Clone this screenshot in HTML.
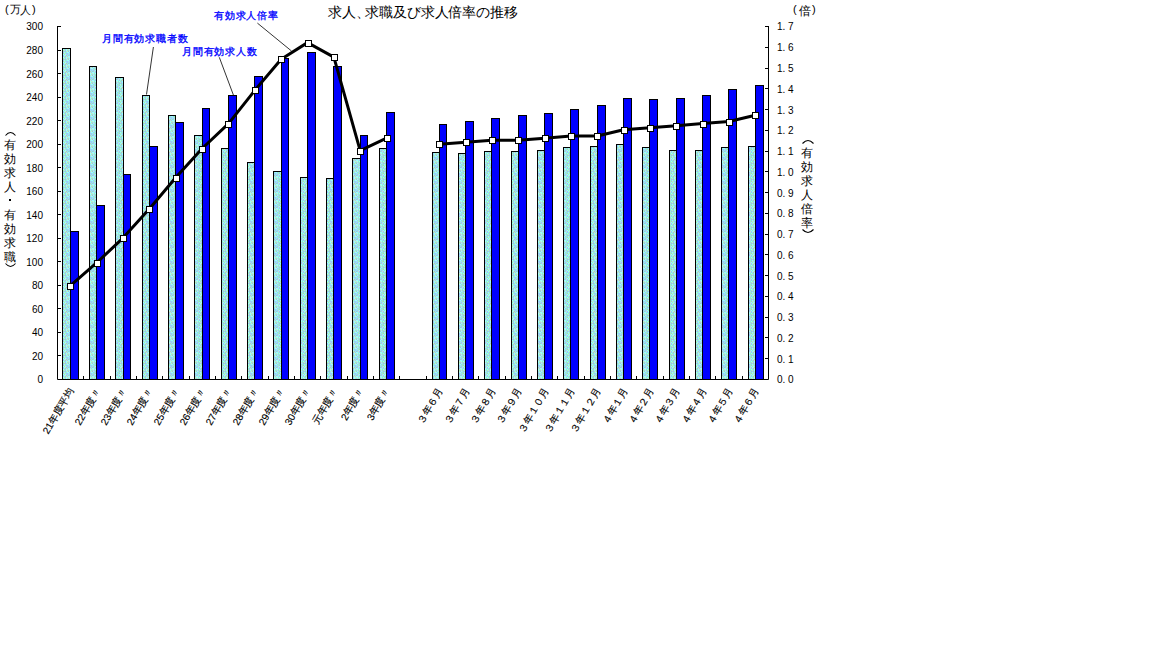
<!DOCTYPE html>
<html lang="ja"><head><meta charset="utf-8">
<style>
html,body{margin:0;padding:0;background:#fff;width:1152px;height:648px;overflow:hidden}
body{position:relative;font-family:"Liberation Sans",sans-serif;color:#000}
svg{position:absolute;left:0;top:0}
.t{position:absolute;white-space:nowrap;line-height:1}
.yl{position:absolute;left:0;width:43px;text-align:right;font-size:10px;line-height:10px}
.yr{position:absolute;left:777px;font-size:10px;line-height:10px;white-space:pre}
.v{position:absolute;font-size:12px;line-height:12px}
.xo{position:absolute;width:0;height:0}
.xi{position:absolute;right:0;top:-6px;line-height:12px;font-size:10px;white-space:nowrap;transform-origin:100% 50%;transform:rotate(-60deg);-webkit-text-stroke:0.15px #000}
</style></head><body>
<svg width="1152" height="648" viewBox="0 0 1152 648">
<defs><pattern id="pat" width="8" height="8" patternUnits="userSpaceOnUse"><rect x="0" y="0" width="1" height="1" fill="#9ce8e8"/><rect x="1" y="0" width="1" height="1" fill="#a0d0c8"/><rect x="2" y="0" width="1" height="1" fill="#c8e8c8"/><rect x="3" y="0" width="1" height="1" fill="#99ccf8"/><rect x="4" y="0" width="1" height="1" fill="#99ffff"/><rect x="5" y="0" width="1" height="1" fill="#99ffff"/><rect x="6" y="0" width="1" height="1" fill="#9ce8e8"/><rect x="7" y="0" width="1" height="1" fill="#99ccf8"/><rect x="0" y="1" width="1" height="1" fill="#99f8bb"/><rect x="1" y="1" width="1" height="1" fill="#99ccf8"/><rect x="2" y="1" width="1" height="1" fill="#99ffff"/><rect x="3" y="1" width="1" height="1" fill="#c8e8c8"/><rect x="4" y="1" width="1" height="1" fill="#c8e8c8"/><rect x="5" y="1" width="1" height="1" fill="#99ffff"/><rect x="6" y="1" width="1" height="1" fill="#99f8bb"/><rect x="7" y="1" width="1" height="1" fill="#99ffff"/><rect x="0" y="2" width="1" height="1" fill="#c8e8c8"/><rect x="1" y="2" width="1" height="1" fill="#99ccf8"/><rect x="2" y="2" width="1" height="1" fill="#99ffff"/><rect x="3" y="2" width="1" height="1" fill="#99f8bb"/><rect x="4" y="2" width="1" height="1" fill="#99ccf8"/><rect x="5" y="2" width="1" height="1" fill="#c8e8c8"/><rect x="6" y="2" width="1" height="1" fill="#99ccf8"/><rect x="7" y="2" width="1" height="1" fill="#99f8bb"/><rect x="0" y="3" width="1" height="1" fill="#99ccf8"/><rect x="1" y="3" width="1" height="1" fill="#a0d0c8"/><rect x="2" y="3" width="1" height="1" fill="#a8d8f0"/><rect x="3" y="3" width="1" height="1" fill="#c8e8c8"/><rect x="4" y="3" width="1" height="1" fill="#a0d0c8"/><rect x="5" y="3" width="1" height="1" fill="#99ffff"/><rect x="6" y="3" width="1" height="1" fill="#a8d8f0"/><rect x="7" y="3" width="1" height="1" fill="#a0d0c8"/><rect x="0" y="4" width="1" height="1" fill="#99ffff"/><rect x="1" y="4" width="1" height="1" fill="#99f8bb"/><rect x="2" y="4" width="1" height="1" fill="#9ce8e8"/><rect x="3" y="4" width="1" height="1" fill="#99ffff"/><rect x="4" y="4" width="1" height="1" fill="#99ffff"/><rect x="5" y="4" width="1" height="1" fill="#99ccf8"/><rect x="6" y="4" width="1" height="1" fill="#99f8bb"/><rect x="7" y="4" width="1" height="1" fill="#99ccf8"/><rect x="0" y="5" width="1" height="1" fill="#c8e8c8"/><rect x="1" y="5" width="1" height="1" fill="#9ce8e8"/><rect x="2" y="5" width="1" height="1" fill="#99ccf8"/><rect x="3" y="5" width="1" height="1" fill="#99ccf8"/><rect x="4" y="5" width="1" height="1" fill="#9ce8e8"/><rect x="5" y="5" width="1" height="1" fill="#a8d8f0"/><rect x="6" y="5" width="1" height="1" fill="#99f8bb"/><rect x="7" y="5" width="1" height="1" fill="#a0d0c8"/><rect x="0" y="6" width="1" height="1" fill="#99f8bb"/><rect x="1" y="6" width="1" height="1" fill="#99ffff"/><rect x="2" y="6" width="1" height="1" fill="#a8d8f0"/><rect x="3" y="6" width="1" height="1" fill="#99ccf8"/><rect x="4" y="6" width="1" height="1" fill="#9ce8e8"/><rect x="5" y="6" width="1" height="1" fill="#99ccf8"/><rect x="6" y="6" width="1" height="1" fill="#a8d8f0"/><rect x="7" y="6" width="1" height="1" fill="#99ffff"/><rect x="0" y="7" width="1" height="1" fill="#99ffff"/><rect x="1" y="7" width="1" height="1" fill="#c8e8c8"/><rect x="2" y="7" width="1" height="1" fill="#a0d0c8"/><rect x="3" y="7" width="1" height="1" fill="#9ce8e8"/><rect x="4" y="7" width="1" height="1" fill="#a0d0c8"/><rect x="5" y="7" width="1" height="1" fill="#99ccf8"/><rect x="6" y="7" width="1" height="1" fill="#c8e8c8"/><rect x="7" y="7" width="1" height="1" fill="#99ccf8"/></pattern></defs>
<rect x="62.5" y="48.5" width="8" height="331" fill="url(#pat)" stroke="#000" stroke-width="1"/>
<rect x="70.5" y="231.5" width="8" height="148" fill="#0000ff" stroke="#000" stroke-width="1"/>
<rect x="89.5" y="66.5" width="7" height="313" fill="url(#pat)" stroke="#000" stroke-width="1"/>
<rect x="96.5" y="205.5" width="8" height="174" fill="#0000ff" stroke="#000" stroke-width="1"/>
<rect x="115.5" y="77.5" width="8" height="302" fill="url(#pat)" stroke="#000" stroke-width="1"/>
<rect x="123.5" y="174.5" width="7" height="205" fill="#0000ff" stroke="#000" stroke-width="1"/>
<rect x="142.5" y="95.5" width="7" height="284" fill="url(#pat)" stroke="#000" stroke-width="1"/>
<rect x="149.5" y="146.5" width="8" height="233" fill="#0000ff" stroke="#000" stroke-width="1"/>
<rect x="168.5" y="115.5" width="7" height="264" fill="url(#pat)" stroke="#000" stroke-width="1"/>
<rect x="175.5" y="122.5" width="8" height="257" fill="#0000ff" stroke="#000" stroke-width="1"/>
<rect x="194.5" y="135.5" width="8" height="244" fill="url(#pat)" stroke="#000" stroke-width="1"/>
<rect x="202.5" y="108.5" width="7" height="271" fill="#0000ff" stroke="#000" stroke-width="1"/>
<rect x="221.5" y="148.5" width="7" height="231" fill="url(#pat)" stroke="#000" stroke-width="1"/>
<rect x="228.5" y="95.5" width="8" height="284" fill="#0000ff" stroke="#000" stroke-width="1"/>
<rect x="247.5" y="162.5" width="7" height="217" fill="url(#pat)" stroke="#000" stroke-width="1"/>
<rect x="254.5" y="76.5" width="8" height="303" fill="#0000ff" stroke="#000" stroke-width="1"/>
<rect x="273.5" y="171.5" width="8" height="208" fill="url(#pat)" stroke="#000" stroke-width="1"/>
<rect x="281.5" y="58.5" width="7" height="321" fill="#0000ff" stroke="#000" stroke-width="1"/>
<rect x="300.5" y="177.5" width="7" height="202" fill="url(#pat)" stroke="#000" stroke-width="1"/>
<rect x="307.5" y="52.5" width="8" height="327" fill="#0000ff" stroke="#000" stroke-width="1"/>
<rect x="326.5" y="178.5" width="7" height="201" fill="url(#pat)" stroke="#000" stroke-width="1"/>
<rect x="333.5" y="66.5" width="8" height="313" fill="#0000ff" stroke="#000" stroke-width="1"/>
<rect x="352.5" y="158.5" width="8" height="221" fill="url(#pat)" stroke="#000" stroke-width="1"/>
<rect x="360.5" y="135.5" width="7" height="244" fill="#0000ff" stroke="#000" stroke-width="1"/>
<rect x="379.5" y="148.5" width="7" height="231" fill="url(#pat)" stroke="#000" stroke-width="1"/>
<rect x="386.5" y="112.5" width="8" height="267" fill="#0000ff" stroke="#000" stroke-width="1"/>
<rect x="432.5" y="152.5" width="7" height="227" fill="url(#pat)" stroke="#000" stroke-width="1"/>
<rect x="439.5" y="124.5" width="7" height="255" fill="#0000ff" stroke="#000" stroke-width="1"/>
<rect x="458.5" y="153.5" width="7" height="226" fill="url(#pat)" stroke="#000" stroke-width="1"/>
<rect x="465.5" y="121.5" width="8" height="258" fill="#0000ff" stroke="#000" stroke-width="1"/>
<rect x="484.5" y="151.5" width="7" height="228" fill="url(#pat)" stroke="#000" stroke-width="1"/>
<rect x="491.5" y="118.5" width="8" height="261" fill="#0000ff" stroke="#000" stroke-width="1"/>
<rect x="511.5" y="151.5" width="7" height="228" fill="url(#pat)" stroke="#000" stroke-width="1"/>
<rect x="518.5" y="115.5" width="8" height="264" fill="#0000ff" stroke="#000" stroke-width="1"/>
<rect x="537.5" y="150.5" width="7" height="229" fill="url(#pat)" stroke="#000" stroke-width="1"/>
<rect x="544.5" y="113.5" width="8" height="266" fill="#0000ff" stroke="#000" stroke-width="1"/>
<rect x="563.5" y="147.5" width="7" height="232" fill="url(#pat)" stroke="#000" stroke-width="1"/>
<rect x="570.5" y="109.5" width="8" height="270" fill="#0000ff" stroke="#000" stroke-width="1"/>
<rect x="590.5" y="146.5" width="7" height="233" fill="url(#pat)" stroke="#000" stroke-width="1"/>
<rect x="597.5" y="105.5" width="8" height="274" fill="#0000ff" stroke="#000" stroke-width="1"/>
<rect x="616.5" y="144.5" width="7" height="235" fill="url(#pat)" stroke="#000" stroke-width="1"/>
<rect x="623.5" y="98.5" width="8" height="281" fill="#0000ff" stroke="#000" stroke-width="1"/>
<rect x="642.5" y="147.5" width="7" height="232" fill="url(#pat)" stroke="#000" stroke-width="1"/>
<rect x="649.5" y="99.5" width="8" height="280" fill="#0000ff" stroke="#000" stroke-width="1"/>
<rect x="669.5" y="150.5" width="7" height="229" fill="url(#pat)" stroke="#000" stroke-width="1"/>
<rect x="676.5" y="98.5" width="8" height="281" fill="#0000ff" stroke="#000" stroke-width="1"/>
<rect x="695.5" y="150.5" width="7" height="229" fill="url(#pat)" stroke="#000" stroke-width="1"/>
<rect x="702.5" y="95.5" width="8" height="284" fill="#0000ff" stroke="#000" stroke-width="1"/>
<rect x="721.5" y="147.5" width="7" height="232" fill="url(#pat)" stroke="#000" stroke-width="1"/>
<rect x="728.5" y="89.5" width="8" height="290" fill="#0000ff" stroke="#000" stroke-width="1"/>
<rect x="748.5" y="146.5" width="7" height="233" fill="url(#pat)" stroke="#000" stroke-width="1"/>
<rect x="755.5" y="85.5" width="8" height="294" fill="#0000ff" stroke="#000" stroke-width="1"/>
<path d="M57.5 26 V379.5 H768.5 V26" fill="none" stroke="#000" stroke-width="1"/>
<path d="M58 379.5H61 M58 355.5H61 M58 332.5H61 M58 308.5H61 M58 285.5H61 M58 261.5H61 M58 238.5H61 M58 214.5H61 M58 191.5H61 M58 167.5H61 M58 144.5H61 M58 120.5H61 M58 97.5H61 M58 73.5H61 M58 50.5H61 M58 26.5H61 M765 379.5H768 M765 358.5H768 M765 337.5H768 M765 317.5H768 M765 296.5H768 M765 275.5H768 M765 254.5H768 M765 234.5H768 M765 213.5H768 M765 192.5H768 M765 171.5H768 M765 151.5H768 M765 130.5H768 M765 109.5H768 M765 88.5H768 M765 68.5H768 M765 47.5H768 M765 26.5H768 M83.5 376V379 M110.5 376V379 M136.5 376V379 M162.5 376V379 M189.5 376V379 M215.5 376V379 M241.5 376V379 M268.5 376V379 M294.5 376V379 M320.5 376V379 M347.5 376V379 M373.5 376V379 M399.5 376V379 M426.5 376V379 M452.5 376V379 M478.5 376V379 M505.5 376V379 M531.5 376V379 M557.5 376V379 M584.5 376V379 M610.5 376V379 M636.5 376V379 M663.5 376V379 M689.5 376V379 M715.5 376V379 M742.5 376V379" stroke="#000" stroke-width="1" fill="none"/>
<path d="M257.4 23.1 L291.5 51 M153.4 47 L146.5 94.5 M219.3 57.3 L233.5 95.3" stroke="#000" stroke-width="0.8" fill="none"/>
<path d="M70.45 285.56 L96.79 262.72 L123.13 237.80 L149.47 208.73 L175.81 177.58 L202.15 148.51 L228.49 123.59 L254.83 90.37 L281.17 59.22 L307.51 42.61 L333.85 57.15 L360.19 150.59 L386.53 138.13" stroke="#000" stroke-width="3" fill="none" stroke-linejoin="round"/>
<path d="M439.21 144.36 L465.55 142.28 L491.89 140.21 L518.23 140.21 L544.57 138.13 L570.91 136.05 L597.25 136.05 L623.59 129.82 L649.93 127.75 L676.27 125.67 L702.61 123.59 L728.95 121.52 L755.29 115.29" stroke="#000" stroke-width="3" fill="none" stroke-linejoin="round"/>
<rect x="67.5" y="283.5" width="6" height="6" fill="#fff" stroke="#000" stroke-width="1"/>
<rect x="94.5" y="260.5" width="6" height="6" fill="#fff" stroke="#000" stroke-width="1"/>
<rect x="120.5" y="235.5" width="6" height="6" fill="#fff" stroke="#000" stroke-width="1"/>
<rect x="146.5" y="206.5" width="6" height="6" fill="#fff" stroke="#000" stroke-width="1"/>
<rect x="173.5" y="175.5" width="6" height="6" fill="#fff" stroke="#000" stroke-width="1"/>
<rect x="199.5" y="146.5" width="6" height="6" fill="#fff" stroke="#000" stroke-width="1"/>
<rect x="225.5" y="121.5" width="6" height="6" fill="#fff" stroke="#000" stroke-width="1"/>
<rect x="252.5" y="87.5" width="6" height="6" fill="#fff" stroke="#000" stroke-width="1"/>
<rect x="278.5" y="56.5" width="6" height="6" fill="#fff" stroke="#000" stroke-width="1"/>
<rect x="305.5" y="40.5" width="6" height="6" fill="#fff" stroke="#000" stroke-width="1"/>
<rect x="331.5" y="54.5" width="6" height="6" fill="#fff" stroke="#000" stroke-width="1"/>
<rect x="357.5" y="148.5" width="6" height="6" fill="#fff" stroke="#000" stroke-width="1"/>
<rect x="384.5" y="135.5" width="6" height="6" fill="#fff" stroke="#000" stroke-width="1"/>
<rect x="436.5" y="141.5" width="6" height="6" fill="#fff" stroke="#000" stroke-width="1"/>
<rect x="463.5" y="139.5" width="6" height="6" fill="#fff" stroke="#000" stroke-width="1"/>
<rect x="489.5" y="137.5" width="6" height="6" fill="#fff" stroke="#000" stroke-width="1"/>
<rect x="515.5" y="137.5" width="6" height="6" fill="#fff" stroke="#000" stroke-width="1"/>
<rect x="542.5" y="135.5" width="6" height="6" fill="#fff" stroke="#000" stroke-width="1"/>
<rect x="568.5" y="133.5" width="6" height="6" fill="#fff" stroke="#000" stroke-width="1"/>
<rect x="594.5" y="133.5" width="6" height="6" fill="#fff" stroke="#000" stroke-width="1"/>
<rect x="621.5" y="127.5" width="6" height="6" fill="#fff" stroke="#000" stroke-width="1"/>
<rect x="647.5" y="125.5" width="6" height="6" fill="#fff" stroke="#000" stroke-width="1"/>
<rect x="673.5" y="123.5" width="6" height="6" fill="#fff" stroke="#000" stroke-width="1"/>
<rect x="700.5" y="121.5" width="6" height="6" fill="#fff" stroke="#000" stroke-width="1"/>
<rect x="726.5" y="119.5" width="6" height="6" fill="#fff" stroke="#000" stroke-width="1"/>
<rect x="752.5" y="112.5" width="6" height="6" fill="#fff" stroke="#000" stroke-width="1"/>
<rect x="9" y="199" width="2" height="2" fill="#000"/>
<path d="M5.5 135.5 Q10.5 129.6 15.5 135.5 M5.5 263.5 Q10.5 269.4 15.5 263.5" stroke="#000" stroke-width="1.1" fill="none"/>
<path d="M802.5 143.5 Q808 137.6 813.5 143.5 M802.5 229.5 Q808 235.4 813.5 229.5" stroke="#000" stroke-width="1.1" fill="none"/>
</svg>
<div class="t" style="left:328px;top:5px;font-size:14px;letter-spacing:0px">求人、</div>
<div class="t" style="left:365px;top:5px;font-size:14px;letter-spacing:-0.1px">求職及び求人倍率の推移</div>
<div class="t" style="left:5px;top:4px;font-size:11px;">(</div>
<div class="t" style="left:10px;top:4px;font-size:11px;">万</div>
<div class="t" style="left:20px;top:5px;font-size:11px;">人</div>
<div class="t" style="left:32px;top:4px;font-size:11px;">)</div>
<div class="t" style="left:793px;top:4px;font-size:11px;">(</div>
<div class="t" style="left:799px;top:5px;font-size:12px;">倍</div>
<div class="t" style="left:812px;top:4px;font-size:11px;">)</div>
<div class="yl" style="top:375.4px">0</div>
<div class="yl" style="top:351.9px">20</div>
<div class="yl" style="top:328.3px">40</div>
<div class="yl" style="top:304.8px">60</div>
<div class="yl" style="top:281.3px">80</div>
<div class="yl" style="top:257.7px">100</div>
<div class="yl" style="top:234.2px">120</div>
<div class="yl" style="top:210.7px">140</div>
<div class="yl" style="top:187.1px">160</div>
<div class="yl" style="top:163.6px">180</div>
<div class="yl" style="top:140.1px">200</div>
<div class="yl" style="top:116.5px">220</div>
<div class="yl" style="top:93.0px">240</div>
<div class="yl" style="top:69.5px">260</div>
<div class="yl" style="top:45.9px">280</div>
<div class="yl" style="top:22.4px">300</div>
<div class="yr" style="top:375.4px">0. 0</div>
<div class="yr" style="top:354.6px">0. 1</div>
<div class="yr" style="top:333.9px">0. 2</div>
<div class="yr" style="top:313.1px">0. 3</div>
<div class="yr" style="top:292.3px">0. 4</div>
<div class="yr" style="top:271.6px">0. 5</div>
<div class="yr" style="top:250.8px">0. 6</div>
<div class="yr" style="top:230.0px">0. 7</div>
<div class="yr" style="top:209.3px">0. 8</div>
<div class="yr" style="top:188.5px">0. 9</div>
<div class="yr" style="top:167.8px">1. 0</div>
<div class="yr" style="top:147.0px">1. 1</div>
<div class="yr" style="top:126.2px">1. 2</div>
<div class="yr" style="top:105.5px">1. 3</div>
<div class="yr" style="top:84.7px">1. 4</div>
<div class="yr" style="top:63.9px">1. 5</div>
<div class="yr" style="top:43.2px">1. 6</div>
<div class="yr" style="top:22.4px">1. 7</div>
<div class="t" style="left:102px;top:34px;font-size:10px;color:#00f;letter-spacing:0.8px;-webkit-text-stroke:0.3px #00f">月間有効求職者数</div>
<div class="t" style="left:182px;top:47px;font-size:10px;color:#00f;letter-spacing:0.8px;-webkit-text-stroke:0.3px #00f">月間有効求人数</div>
<div class="t" style="left:214px;top:11px;font-size:10px;color:#00f;letter-spacing:0.8px;-webkit-text-stroke:0.3px #00f">有効求人倍率</div>
<div class="v" style="left:4px;top:139px">有</div>
<div class="v" style="left:4px;top:153px">効</div>
<div class="v" style="left:4px;top:167px">求</div>
<div class="v" style="left:4px;top:181px">人</div>
<div class="v" style="left:4px;top:209px">有</div>
<div class="v" style="left:4px;top:223px">効</div>
<div class="v" style="left:4px;top:237px">求</div>
<div class="v" style="left:4px;top:251px">職</div>
<div class="v" style="left:801px;top:147px">有</div>
<div class="v" style="left:801px;top:161px">効</div>
<div class="v" style="left:801px;top:175px">求</div>
<div class="v" style="left:801px;top:189px">人</div>
<div class="v" style="left:801px;top:203px">倍</div>
<div class="v" style="left:801px;top:217px">率</div>
<div class="xo" style="left:71.5px;top:389px"><div class="xi">21年度平均</div></div>
<div class="xo" style="left:97.8px;top:389px"><div class="xi">22年度〃</div></div>
<div class="xo" style="left:124.1px;top:389px"><div class="xi">23年度〃</div></div>
<div class="xo" style="left:150.5px;top:389px"><div class="xi">24年度〃</div></div>
<div class="xo" style="left:176.8px;top:389px"><div class="xi">25年度〃</div></div>
<div class="xo" style="left:203.1px;top:389px"><div class="xi">26年度〃</div></div>
<div class="xo" style="left:229.5px;top:389px"><div class="xi">27年度〃</div></div>
<div class="xo" style="left:255.8px;top:389px"><div class="xi">28年度〃</div></div>
<div class="xo" style="left:282.2px;top:389px"><div class="xi">29年度〃</div></div>
<div class="xo" style="left:308.5px;top:389px"><div class="xi">30年度〃</div></div>
<div class="xo" style="left:334.8px;top:389px"><div class="xi">元年度〃</div></div>
<div class="xo" style="left:361.2px;top:389px"><div class="xi">2年度〃</div></div>
<div class="xo" style="left:387.5px;top:389px"><div class="xi">3年度〃</div></div>
<div class="xo" style="left:440.2px;top:389px"><div class="xi">３年６月</div></div>
<div class="xo" style="left:466.6px;top:389px"><div class="xi">３年７月</div></div>
<div class="xo" style="left:492.9px;top:389px"><div class="xi">３年８月</div></div>
<div class="xo" style="left:519.2px;top:389px"><div class="xi">３年９月</div></div>
<div class="xo" style="left:545.6px;top:389px"><div class="xi">３年１０月</div></div>
<div class="xo" style="left:571.9px;top:389px"><div class="xi">３年１１月</div></div>
<div class="xo" style="left:598.2px;top:389px"><div class="xi">３年１２月</div></div>
<div class="xo" style="left:624.6px;top:389px"><div class="xi">４年１月</div></div>
<div class="xo" style="left:650.9px;top:389px"><div class="xi">４年２月</div></div>
<div class="xo" style="left:677.3px;top:389px"><div class="xi">４年３月</div></div>
<div class="xo" style="left:703.6px;top:389px"><div class="xi">４年４月</div></div>
<div class="xo" style="left:730.0px;top:389px"><div class="xi">４年５月</div></div>
<div class="xo" style="left:756.3px;top:389px"><div class="xi">４年６月</div></div>
</body></html>
